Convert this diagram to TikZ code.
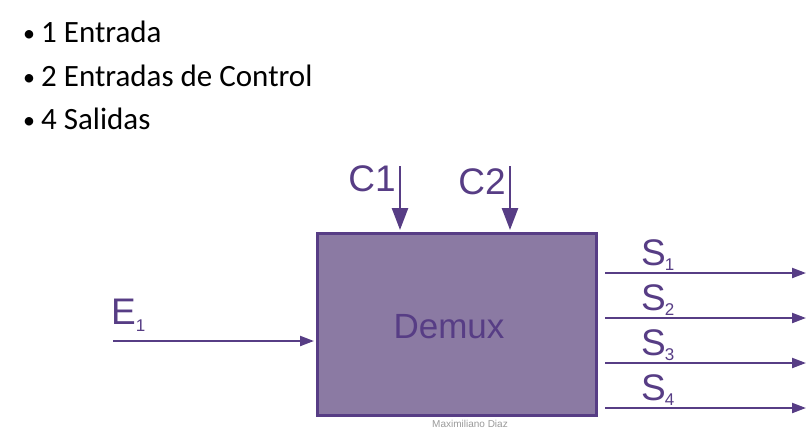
\documentclass[tikz,border=0pt]{standalone}
\usepackage{fontspec}
\setmainfont{Liberation Sans}
\newfontfamily\calib{Carlito}
\usetikzlibrary{arrows.meta}
\definecolor{dpurple}{HTML}{573D85}
\definecolor{boxfill}{HTML}{8B7AA3}
\tikzset{
  conn/.style={draw=dpurple, line width=2.2pt, -{Triangle[length=14pt,width=10pt]}},
  cconn/.style={draw=dpurple, line width=2.6pt, -{Triangle[length=22pt,width=16pt]}},
  lbl/.style={text=dpurple, inner sep=0pt, font=\fontsize{37}{40}\selectfont},
  bullet/.style={anchor=base west, inner sep=0pt, font=\calib\fontsize{31}{33}\selectfont},
}
\newcommand{\bul}{{\fontsize{24}{26}\selectfont\raisebox{1pt}{•}}\hspace{6pt}}
\begin{document}
\begin{tikzpicture}[x=1pt,y=-1pt]
\useasboundingbox (0,0) rectangle (811,431);
% bullets
\node[bullet] (b1) at (23,42) {\bul 1 Entrada};
\node[bullet] (b2) at (23,86) {\bul 2 Entradas de Control};
\node[bullet] (b3) at (23,129) {\bul 4 Salidas};
% box
\node[draw=dpurple, fill=boxfill, line width=3pt, minimum width=279pt, minimum height=182pt, inner sep=0pt] (box) at (457,324.5) {};
\node[text=dpurple, font=\fontsize{35}{36}\selectfont] (demux) at (449,327) {Demux};
\node[text=gray!80, font=\fontsize{10}{12}\selectfont] (author) at (470,424) {Maximiliano Diaz};
% control inputs
\coordinate (c1s) at (400,166);
\coordinate (c2s) at (510,166);
\draw[cconn] (c1s) -- (400,230);
\draw[cconn] (c2s) -- (510,230);
\node[lbl] (c1) at (372,179) {C1};
\node[lbl] (c2) at (482,182) {C2};
% input
\coordinate (es) at (113,341);
\coordinate (ee) at (314,341);
\draw[conn] (es) -- (ee);
\node[lbl, anchor=base west] (e1) at (111,324) {E\raisebox{-7pt}{\fontsize{17}{18}\selectfont 1}};
% outputs
\foreach \i/\y in {1/273,2/318,3/363,4/408}{
  \coordinate (s\i a) at (605,\y);
  \coordinate (s\i b) at (806,\y);
  \draw[conn] (s\i a) -- (s\i b);
  \node[lbl, anchor=base west] (s\i) at (641,\y-8) {S\kern-1pt\raisebox{-5pt}{\fontsize{17}{18}\selectfont \i}};
}
\end{tikzpicture}
\end{document}
